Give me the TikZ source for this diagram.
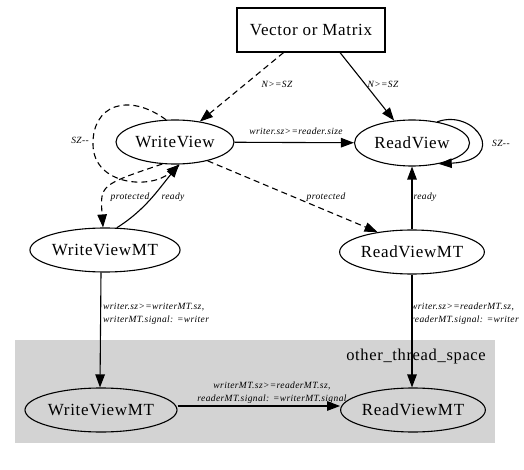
\documentclass[tikz,border=0pt]{standalone}
\usepackage{fontspec}
\setmainfont{Liberation Serif}[LetterSpace=4]
\usetikzlibrary{arrows.meta,shapes.geometric}
\begin{document}
\begin{tikzpicture}[x=1pt,y=-1pt,
  state/.style={draw,ellipse,line width=1.1pt,inner sep=0pt,font=\fontsize{17}{19}\selectfont},
  box/.style={draw,rectangle,line width=1.1pt,inner sep=0pt,font=\fontsize{17}{19}\selectfont},
  edge/.style={line width=1.1pt,-{Triangle[length=13pt,width=9.5pt]}},
  dedge/.style={edge,dash pattern=on 6pt off 4pt},
  lbl/.style={font=\fontsize{9.5}{13}\selectfont\itshape,inner sep=0pt},
  lbls/.style={lbl,align=left}]
\useasboundingbox (0,0) rectangle (524,470);
\fill[fill={rgb,255:red,211;green,211;blue,211}] (15,340) rectangle (495,443);
\node[anchor=east,inner sep=0pt,font=\fontsize{16.5}{19}\selectfont] (cl) at (486,357) {other\_thread\_space};

\node[box,minimum width=148pt,minimum height=44pt] (vm) at (311,30) {Vector or Matrix};
\node[state,minimum width=118pt,minimum height=44pt] (wv) at (175,142) {WriteView};
\node[state,minimum width=115pt,minimum height=46pt] (rv) at (412,143) {ReadView};
\node[state,minimum width=144pt,minimum height=44pt] (wvmt) at (105,250) {WriteViewMT};
\node[state,minimum width=140pt,minimum height=44pt] (rvmt) at (412,252) {ReadViewMT};
\node[state,minimum width=152pt,minimum height=44pt] (wvmt2) at (101,410) {WriteViewMT};
\node[state,minimum width=137pt,minimum height=44pt] (rvmt2) at (413,410) {ReadViewMT};

% Vector -> WriteView
\draw[dedge] (vm) -- (wv);
\node[lbl] (l1) at (277,84) {N>=SZ};
% Vector -> ReadView
\draw[edge] ([xshift=29pt]vm.south) -- (rv);
\node[lbl] (l2) at (383,84) {N>=SZ};
% WriteView -> ReadView
\draw[edge] (wv) -- (rv);
\node[lbl] (l3) at (296,131) {writer.sz>=reader.size};
% ReadView self loop
\draw[edge] (rv.40) .. controls (475,108) and (510,160) .. (rv.-38);
\node[lbl,anchor=west] (l4) at (492,143) {SZ{-}{-}};
% WriteView self loop
\draw[dedge] (wv.112) .. controls (128,92) and (92,105) .. (93,145)
  .. controls (94,185) and (150,190) .. (wv.-78);
\node[lbl,anchor=east] (l5) at (89,140) {SZ{-}{-}};
% WriteView -> WriteViewMT
\draw[dedge] (wv.-120) .. controls (100,185) .. (wvmt.95);
\node[lbl] (l6) at (130,197) {protected};
% WriteViewMT -> WriteView
\draw[edge] (wvmt.62) .. controls (145,210) and (158,190) .. (wv.-80);
\node[lbl] (l7) at (173,197) {ready};
% WriteView -> ReadViewMT
\draw[dedge] (wv.-30) -- (rvmt.150);
\node[lbl] (l8) at (326,197) {protected};
% ReadViewMT -> ReadView
\draw[edge] (rvmt) -- (rv);
\node[lbl] (l9) at (425,197) {ready};
% WriteViewMT -> WriteViewMT (other thread)
\draw[edge] ([xshift=-4pt]wvmt.south) -- ([xshift=-1pt]wvmt2.north);
\node[lbls,anchor=west] (l10) at (103,314) {writer.sz>=writerMT.sz,\\writerMT.signal: =writer};
% ReadViewMT -> ReadViewMT (other thread)
\draw[edge] (rvmt.south) -- ([xshift=-1pt]rvmt2.north);
\node[lbls,anchor=west] (l11) at (411,314) {writer.sz>=readerMT.sz,\\readerMT.signal: =writer};
% WriteViewMT -> ReadViewMT (other thread)
\draw[edge] (wvmt2.east |- 0,406) -- (rvmt2.west |- 0,406);
\node[lbl,align=center] (l12) at (272,393) {writerMT.sz>=readerMT.sz,\\readerMT.signal: =writerMT.signal};
\end{tikzpicture}
\end{document}
